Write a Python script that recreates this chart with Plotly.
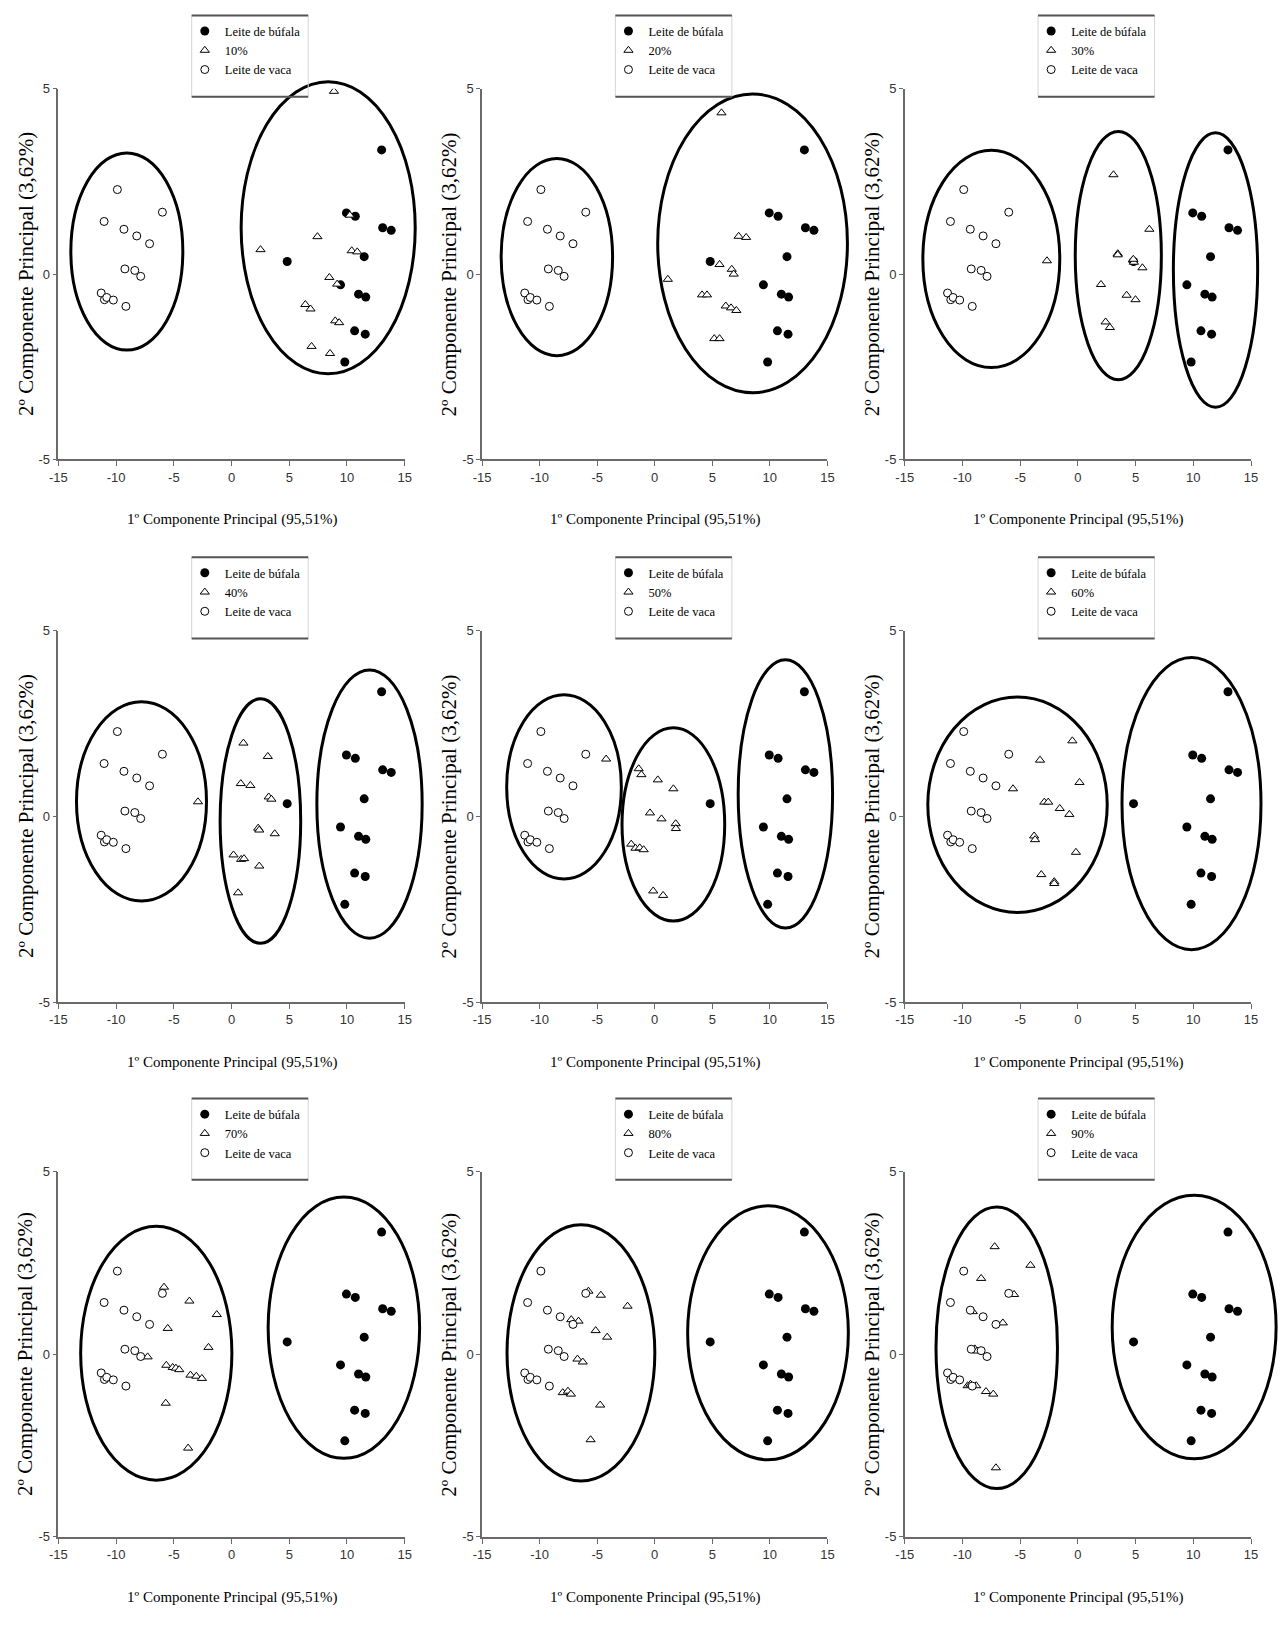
import plotly.graph_objects as go

W, H = 1287, 1628

# ---------------- data ----------------
panel_labels = ["10%", "20%", "30%", "40%", "50%", "60%", "70%", "80%", "90%"]

bufala_x = [13.0, 9.95, 10.72, 13.09, 13.83, 11.49, 4.82, 9.44, 11.0, 11.63, 10.66, 11.58, 9.81]
bufala_y = [3.35, 1.65, 1.56, 1.25, 1.18, 0.47, 0.34, -0.29, -0.54, -0.62, -1.53, -1.62, -2.37]

vaca_x = [-9.89, -5.99, -11.04, -9.32, -8.21, -7.10, -9.24, -8.38, -7.87, -11.29, -11.01, -10.81, -10.24, -9.15]
vaca_y = [2.28, 1.67, 1.42, 1.21, 1.03, 0.82, 0.14, 0.10, -0.06, -0.51, -0.69, -0.63, -0.70, -0.87]

mix10_x = [8.87, 7.44, 2.51, 10.41, 10.89, 10.24, 8.47, 9.15, 6.39, 6.84, 8.98, 9.32, 6.93, 8.53]
mix10_y = [4.93, 1.01, 0.66, 0.63, 0.60, 1.59, -0.09, -0.27, -0.82, -0.94, -1.26, -1.31, -1.95, -2.14]

mix20_x = [5.80, 7.29, 7.94, 1.14, 5.63, 6.69, 6.86, 4.11, 4.54, 6.17, 6.63, 7.09, 5.17, 5.63]
mix20_y = [4.35, 1.02, 0.99, -0.14, 0.26, 0.13, 0.0, -0.56, -0.56, -0.86, -0.91, -0.98, -1.74, -1.74]

mix30_x = [-2.68, 3.08, 6.19, 3.45, 3.45, 4.76, 4.85, 5.59, 2.00, 4.22, 4.99, 2.40, 2.77, 4.80]
mix30_y = [0.36, 2.68, 1.21, 0.55, 0.52, 0.38, 0.32, 0.17, -0.28, -0.57, -0.69, -1.29, -1.44, 0.40]

mix40_x = [-2.91, 1.03, 3.14, 0.80, 1.63, 3.22, 3.45, 2.31, 2.40, 3.74, 0.17, 0.83, 1.08, 2.40, 0.57]
mix40_y = [0.39, 1.97, 1.61, 0.88, 0.83, 0.52, 0.46, -0.32, -0.37, -0.47, -1.04, -1.16, -1.14, -1.34, -2.06]

mix50_x = [-4.22, -1.39, -1.16, 0.27, 1.62, -0.41, 0.59, 1.82, 1.84, -2.04, -1.67, -1.30, -0.96, -0.13, 0.73]
mix50_y = [1.54, 1.28, 1.12, 0.98, 0.74, 0.09, -0.07, -0.20, -0.33, -0.75, -0.86, -0.85, -0.90, -2.01, -2.13]

mix60_x = [-0.48, -3.28, 0.14, -5.62, -2.91, -2.57, -1.57, -0.74, -3.79, -3.71, -0.17, -3.17, -2.05, -2.05]
mix60_y = [2.03, 1.51, 0.91, 0.74, 0.38, 0.38, 0.21, 0.05, -0.53, -0.63, -0.97, -1.57, -1.76, -1.81]

mix70_x = [-5.85, -3.65, -1.28, -5.53, -2.00, -7.27, -5.65, -5.10, -4.82, -4.53, -3.56, -3.05, -2.57, -5.70, -3.76]
mix70_y = [1.84, 1.46, 1.09, 0.71, 0.19, -0.07, -0.30, -0.36, -0.38, -0.42, -0.57, -0.60, -0.66, -1.34, -2.57]

mix80_x = [-5.76, -4.68, -2.36, -7.25, -6.62, -5.13, -4.13, -6.71, -6.25, -7.99, -7.54, -7.28, -4.74, -5.57]
mix80_y = [1.73, 1.62, 1.32, 0.95, 0.91, 0.65, 0.47, -0.13, -0.21, -1.05, -1.01, -1.09, -1.39, -2.34]

mix90_x = [-7.21, -4.11, -8.38, -5.53, -9.10, -6.50, -8.93, -8.73, -9.55, -9.30, -8.81, -7.96, -7.33, -7.10]
mix90_y = [2.95, 2.44, 2.08, 1.64, 1.17, 0.86, 0.15, 0.09, -0.86, -0.82, -0.86, -1.02, -1.09, -3.11]

mix_x = [mix10_x, mix20_x, mix30_x, mix40_x, mix50_x, mix60_x, mix70_x, mix80_x, mix90_x]
mix_y = [mix10_y, mix20_y, mix30_y, mix40_y, mix50_y, mix60_y, mix70_y, mix80_y, mix90_y]

# grouping ellipses: (centre x, centre y, semi-axis x, semi-axis y)
ell10 = [(-9.07, 0.61, 4.85, 2.66), (8.37, 1.25, 7.54, 3.94)]
ell20 = [(-8.50, 0.46, 4.84, 2.66), (8.50, 0.83, 8.24, 4.03)]
ell30 = [(-7.50, 0.41, 5.93, 2.93), (3.50, 0.50, 3.73, 3.35), (11.92, 0.11, 3.65, 3.70)]
ell40 = [(-7.80, 0.40, 5.63, 2.68), (2.50, -0.13, 3.49, 3.29), (11.95, 0.33, 4.56, 3.61)]
ell50 = [(-7.88, 0.79, 4.98, 2.48), (1.62, -0.22, 4.46, 2.60), (11.35, 0.60, 4.10, 3.61)]
ell60 = [(-5.23, 0.31, 7.77, 2.90), (9.84, 0.34, 6.02, 3.93)]
ell70 = [(-6.52, 0.03, 6.55, 3.48), (9.73, 0.73, 6.56, 3.58)]
ell80 = [(-6.41, 0.04, 6.42, 3.51), (9.84, 0.59, 6.98, 3.48)]
ell90 = [(-7.03, 0.18, 5.26, 3.86), (10.07, 0.75, 7.10, 3.61)]
ellipses = [ell10, ell20, ell30, ell40, ell50, ell60, ell70, ell80, ell90]

x_ticks = [-15, -10, -5, 0, 5, 10, 15]
y_ticks = [-5, 0, 5]
x_title = "1º Componente Principal (95,51%)"
y_title = "2º Componente Principal (3,62%)"

# ---------------- layout geometry (pixels) ----------------
col_left = [50, 479, 907]
col_right = [400.7, 828.7, 1257.7]
row_top = [82.5, 629.3, 1175.7]
row_bot = [456.7, 1004.3, 1544.0]

XR = (-15, 15)
YR = (-5, 5)
XR_EXT = (-16, 17.4)
YR_EXT = (-5.5, 5.7)

SERIF = "Liberation Serif, Times New Roman, serif"
NARROW = "Liberation Sans Narrow, Arial Narrow, Liberation Sans, Arial, sans-serif"


def clamp(v):
    return max(0.0, min(1.0, v))


fig = go.Figure()
layout = dict(
    width=W, height=H,
    margin=dict(l=0, r=0, t=0, b=0),
    paper_bgcolor="white", plot_bgcolor="rgba(0,0,0,0)",
    showlegend=True,
)
shapes = []
annotations = []

for i in range(9):
    r, c = divmod(i, 3)
    L, R, T, B = col_left[c], col_right[c], row_top[r], row_bot[r]
    sx = (R - L) / (XR[1] - XR[0])
    sy = (B - T) / (YR[1] - YR[0])
    n = i + 1
    xa, ya = f"x{n}" if n > 1 else "x", f"y{n}" if n > 1 else "y"
    xk, yk = f"xaxis{n}" if n > 1 else "xaxis", f"yaxis{n}" if n > 1 else "yaxis"
    leg = f"legend{n}" if n > 1 else "legend"

    layout[xk] = dict(
        domain=[L / W, R / W], range=list(XR), anchor=ya,
        showline=True, linecolor="#6a6a6a", linewidth=1.5, mirror=False,
        showgrid=False, zeroline=False,
        ticks="outside", ticklen=5, tickwidth=1, tickcolor="#6a6a6a",
        tickvals=x_ticks, ticktext=[str(v) for v in x_ticks],
        tickfont=dict(family=NARROW, size=13, color="#333"),
    )
    layout[yk] = dict(
        domain=[1 - B / H, 1 - T / H], range=list(YR), anchor=xa,
        showline=True, linecolor="#6a6a6a", linewidth=1.5,
        showgrid=False, zeroline=False,
        ticks="outside", ticklen=4, tickwidth=1, tickcolor="#6a6a6a",
        tickvals=y_ticks, ticktext=[str(v) for v in y_ticks],
        tickfont=dict(family=NARROW, size=13, color="#333"),
    )

    # hidden twin axes with same scale but wider domain, for the ellipses
    hn = n + 9
    hxa, hya = f"x{hn}", f"y{hn}"
    xl = L - (XR[0] - XR_EXT[0]) * sx
    xr = R + (XR_EXT[1] - XR[1]) * sx
    yt = T - (YR_EXT[1] - YR[1]) * sy
    yb = B + (YR[0] - YR_EXT[0]) * sy
    layout[f"xaxis{hn}"] = dict(domain=[clamp(xl / W), clamp(xr / W)], range=list(XR_EXT), anchor=hya,
                                visible=False, showgrid=False, zeroline=False)
    layout[f"yaxis{hn}"] = dict(domain=[clamp(1 - yb / H), clamp(1 - yt / H)], range=list(YR_EXT), anchor=hxa,
                                visible=False, showgrid=False, zeroline=False)
    fig.add_trace(go.Scatter(x=[None], y=[None], xaxis=hxa, yaxis=hya, showlegend=False,
                             hoverinfo="skip", mode="markers"))

    # data traces
    fig.add_trace(go.Scatter(
        x=bufala_x, y=bufala_y, mode="markers", name="Leite de búfala",
        xaxis=xa, yaxis=ya, legend=leg,
        marker=dict(symbol="circle", size=9, color="black", line=dict(width=0)),
    ))
    fig.add_trace(go.Scatter(
        x=mix_x[i], y=mix_y[i], mode="markers", name=panel_labels[i],
        xaxis=xa, yaxis=ya, legend=leg,
        marker=dict(symbol="triangle-up", size=8, color="white", line=dict(width=1, color="black")),
    ))
    fig.add_trace(go.Scatter(
        x=vaca_x, y=vaca_y, mode="markers", name="Leite de vaca",
        xaxis=xa, yaxis=ya, legend=leg,
        marker=dict(symbol="circle", size=8, color="white", line=dict(width=1, color="black")),
    ))

    for (cx, cy, ax_, by_) in ellipses[i]:
        shapes.append(dict(type="circle", xref=hxa, yref=hya,
                           x0=cx - ax_, x1=cx + ax_, y0=cy - by_, y1=cy + by_,
                           line=dict(color="black", width=3), layer="above"))

    # legend box
    bl, br = L + 135, L + 253
    bt, bb = T - 74, T + 8
    shapes.append(dict(type="rect", xref="paper", yref="paper",
                       x0=bl / W, x1=br / W, y0=1 - bb / H, y1=1 - bt / H,
                       line=dict(color="#d4d4d4", width=1), fillcolor="rgba(0,0,0,0)"))
    for yy in (bt, bb):
        shapes.append(dict(type="line", xref="paper", yref="paper",
                           x0=bl / W, x1=br / W, y0=1 - yy / H, y1=1 - yy / H,
                           line=dict(color="#555", width=2)))
    layout[leg] = dict(
        x=(bl - 7) / W, xanchor="left", y=1 - (bt + 1) / H, yanchor="top",
        bgcolor="rgba(0,0,0,0)", borderwidth=0,
        font=dict(family=SERIF, size=12.5, color="black"),
        tracegroupgap=0, itemsizing="trace", traceorder="normal",
    )

    # axis titles
    annotations.append(dict(text=x_title, xref="paper", yref="paper",
                            x=(L + R) / 2 / W, y=1 - (B + 61) / H,
                            xanchor="center", yanchor="middle", showarrow=False,
                            font=dict(family=SERIF, size=15, color="black")))
    annotations.append(dict(text=y_title, xref="paper", yref="paper",
                            x=(L - 33) / W, y=1 - (T + B) / 2 / H,
                            xanchor="center", yanchor="middle", showarrow=False, textangle=-90,
                            font=dict(family=SERIF, size=21, color="black")))

layout["shapes"] = shapes
layout["annotations"] = annotations
fig.update_layout(**layout)

fig.write_html("out.html")
